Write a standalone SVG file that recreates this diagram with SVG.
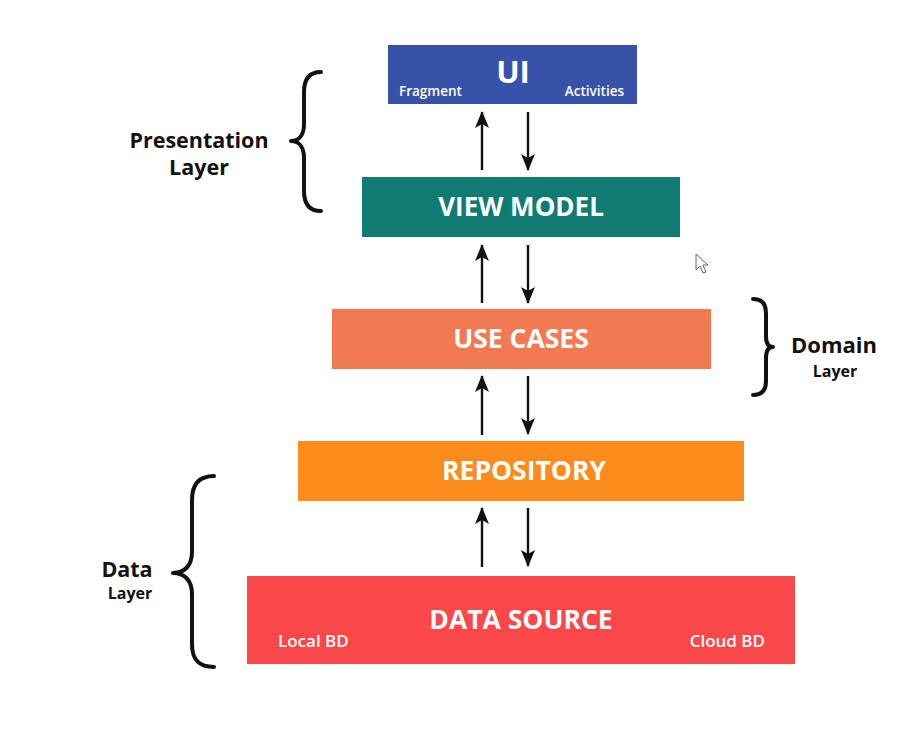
<svg xmlns="http://www.w3.org/2000/svg" width="923" height="733" viewBox="0 0 923 733">
<defs>
<marker id="ah" viewBox="0 0 17 14" refX="16" refY="7" markerWidth="17" markerHeight="14" orient="auto" markerUnits="userSpaceOnUse">
<path d="M0,0 L17,7 L0,14 L4,7 z" fill="#111"/>
</marker>
<style>
.box-title{font-family:"Open Sans","Liberation Sans",sans-serif;font-weight:bold;fill:#fff;text-anchor:middle;}
.sub{font-family:"Open Sans","Liberation Sans",sans-serif;font-weight:600;fill:#fff;}
.lbl{font-family:"Open Sans","Liberation Sans",sans-serif;font-weight:bold;fill:#111;text-anchor:middle;}
.arrow{stroke:#111;stroke-width:2.4;fill:none;}
.brace{stroke:#111;stroke-width:4;fill:none;stroke-linecap:round;stroke-linejoin:round;}
</style>
</defs>
<rect width="923" height="733" fill="#fff"/>

<g id="ui">
<rect x="388" y="45" width="249" height="59" fill="#3752a8"/>
<text class="box-title" x="513" y="83" font-size="31">UI</text>
<text class="sub" x="399" y="96" font-size="13.5">Fragment</text>
<text class="sub" x="624" y="96" font-size="13.5" text-anchor="end">Activities</text>
</g>

<g id="viewmodel">
<rect x="362" y="177" width="318" height="60" fill="#0f7b73"/>
<text class="box-title" x="521" y="216" font-size="26">VIEW MODEL</text>
</g>

<g id="usecases">
<rect x="332" y="309" width="379" height="60" fill="#f27a52"/>
<text class="box-title" x="521" y="348" font-size="26.5">USE CASES</text>
</g>

<g id="repository">
<rect x="298" y="441" width="446" height="60" fill="#fb8c1b"/>
<text class="box-title" x="524" y="480" font-size="26.5">REPOSITORY</text>
</g>

<g id="datasource">
<rect x="247" y="576" width="548" height="88" fill="#f9474a"/>
<text class="box-title" x="521" y="629" font-size="26.5">DATA SOURCE</text>
<text class="sub" x="278" y="647" font-size="17" font-weight="bold">Local BD</text>
<text class="sub" x="765" y="647" font-size="17" font-weight="bold" text-anchor="end">Cloud BD</text>
</g>

<g id="connectors">
<line class="arrow" x1="482" y1="170" x2="482" y2="112" marker-end="url(#ah)"/>
<line class="arrow" x1="528" y1="112" x2="528" y2="170" marker-end="url(#ah)"/>
<line class="arrow" x1="482" y1="303" x2="482" y2="245" marker-end="url(#ah)"/>
<line class="arrow" x1="528" y1="245" x2="528" y2="303" marker-end="url(#ah)"/>
<line class="arrow" x1="482" y1="435" x2="482" y2="376" marker-end="url(#ah)"/>
<line class="arrow" x1="528" y1="376" x2="528" y2="434" marker-end="url(#ah)"/>
<line class="arrow" x1="482" y1="567" x2="482" y2="508" marker-end="url(#ah)"/>
<line class="arrow" x1="528" y1="508" x2="528" y2="566" marker-end="url(#ah)"/>
</g>

<g id="presentation-layer">
<path class="brace" d="M321,72 C309,72 304,79 304,92 L304,124 C304,135 299,141 291,141 C299,141 304,147 304,158 L304,191 C304,204 309,211 321,211"/>
<text class="lbl" x="199" y="148" font-size="21.5">Presentation</text>
<text class="lbl" x="199" y="175" font-size="21.5">Layer</text>
</g>

<g id="domain-layer">
<path class="brace" d="M753,299 C762,299 766,304 766,313 L766,336 C766,343 768,347 773,347 C768,347 766,351 766,358 L766,381 C766,390 762,395 753,395"/>
<text class="lbl" x="834" y="353" font-size="22">Domain</text>
<text class="lbl" x="835" y="377" font-size="16">Layer</text>
</g>

<g id="data-layer">
<path class="brace" d="M214,476 C199,476 192,484 192,500 L192,552 C192,566 184,573 173,573 C184,573 192,580 192,594 L192,644 C192,660 199,667 214,667"/>
<text class="lbl" x="127" y="577" font-size="21.5">Data</text>
<text class="lbl" x="130" y="599" font-size="16">Layer</text>
</g>

<g id="cursor">
<path d="M696,254 L696,270 L700,266 L703,273 L706,272 L703,265 L708,265 Z" fill="#fff" stroke="#666" stroke-width="1"/>
</g>
</svg>
